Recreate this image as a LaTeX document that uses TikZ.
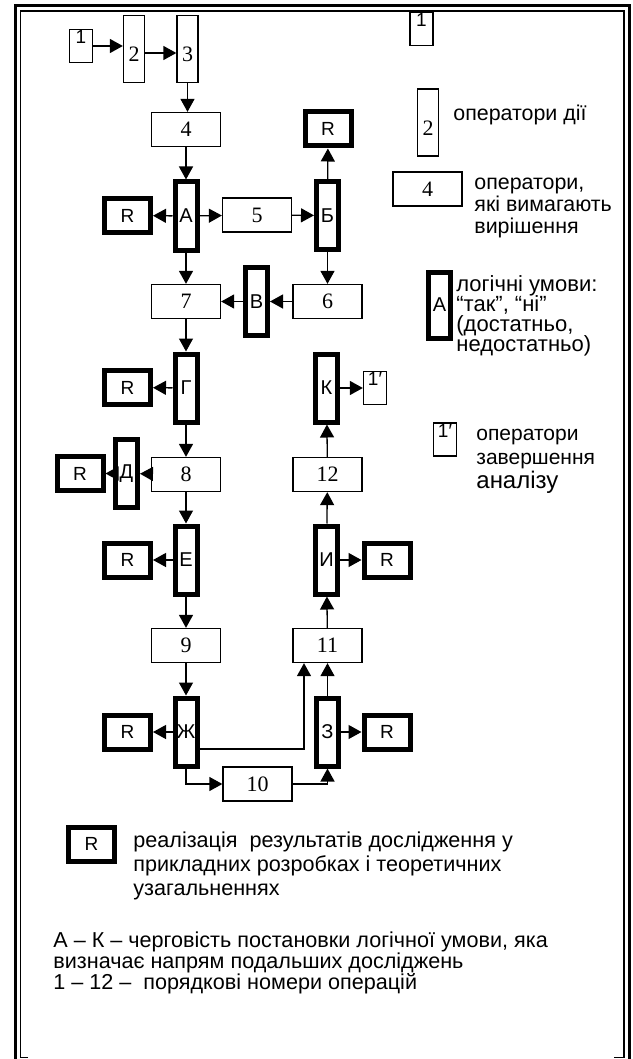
\documentclass[tikz,border=0pt]{standalone}
\usepackage{fontspec}
\setmainfont{Liberation Serif}
\setsansfont{Liberation Sans}
\usetikzlibrary{arrows.meta, positioning, calc}
\newcommand\tightlines{\lineskiplimit=-5pt\relax}

\begin{document}
\begin{tikzpicture}[
    x=0.5pt, y=-0.5pt,
    >={Triangle[length=6.5pt, width=7pt]}, % filled arrowheads
    conn/.style={->, line width=0.65pt}, % connectors between blocks
    oper/.style={draw, line width=0.65pt, minimum width=34.5pt, minimum height=17pt, inner sep=0pt, font=\fontsize{11}{12}\selectfont}, % operators to be solved
    act/.style={draw, line width=0.65pt, minimum width=10.5pt, minimum height=33.5pt, inner sep=0pt, text height=12.6pt, text depth=0pt, font=\fontsize{11}{12}\selectfont}, % action operators
    endop/.style={draw, line width=0.65pt, minimum width=11.5pt, minimum height=16.5pt, inner sep=0pt, text height=7pt, text depth=9.4pt, font=\sffamily\fontsize{9.5}{11}\selectfont}, % start / end operators
    cond/.style={draw, line width=2.5pt, minimum width=11pt, minimum height=34pt, inner sep=0pt, font=\sffamily\fontsize{10}{11}\selectfont}, % logical conditions
    res/.style={draw, line width=2.5pt, minimum width=23pt, minimum height=17pt, inner sep=0pt, font=\sffamily\fontsize{9.5}{11}\selectfont}, % realisation of results
    legend/.style={anchor=west, align=left, inner sep=0pt}
]
    \useasboundingbox (0,0) rectangle (632,1059);

    % === Frame ===
    \draw[line width=1.6pt] (15.5,1059) -- (15.5,5.8) -- (629.5,5.8) -- (629.5,1059);
    \draw[line width=0.75pt] (28,1057.5) -- (20.3,1057.5) -- (20.3,10.8) -- (624,10.8) -- (624,1057.5) -- (614,1057.5);

    % === Start ===
    \node[endop] (s1) at (81,46) {1};
    \node[act] (b2) at (134,49) {2};
    \node[act] (b3) at (187.5,49) {3};

    % ====== LEFT COLUMN ======
    \node[oper] (b4) at (186,129.5) {4};
    \node[cond] (cA) at (186,216) {А};
    \node[oper] (b7) at (186,301.5) {7};
    \node[cond] (cG) at (186,388) {Г};
    \node[oper] (b8) at (186,474.5) {8};
    \node[cond] (cE) at (186,560) {Е};
    \node[oper] (b9) at (186,645.5) {9};
    \node[cond] (cZh) at (186,732) {Ж};

    \node[res] (rA) at (127.5,215.5) {R};
    \node[res] (rG) at (127.5,387.5) {R};
    \node[cond] (cD) at (126.5,473.5) {Д};
    \node[res] (rD) at (80,473.5) {R};
    \node[res] (rE) at (127.5,560) {R};
    \node[res] (rZh) at (127.5,732) {R};

    % ====== MIDDLE ======
    \node[oper] (b5) at (257,215) {5};
    \node[cond] (cV) at (256.5,301.5) {В};
    \node[oper] (b10) at (257.5,784) {10};

    % ====== RIGHT COLUMN ======
    \node[res] (rB) at (328,129) {R};
    \node[cond] (cB) at (327.5,215.5) {Б};
    \node[oper] (b6) at (327.5,301.5) {6};
    \node[cond] (cK) at (326.5,388) {К};
    \node[oper] (b12) at (327.5,474.5) {12};
    \node[cond] (cI) at (326.5,560) {И};
    \node[oper] (b11) at (327.5,645.5) {11};
    \node[cond] (cZ) at (327.5,732) {З};

    \node[endop] (e1) at (375,388) {1′};
    \node[res] (rI) at (387,560) {R};
    \node[res] (rZ) at (387,732) {R};

    % ====== CONNECTORS ======
    \draw[conn] (s1.east) -- (s1.east -| b2.west);
    \draw[conn] ([yshift=-2pt]b2.east) -- ([yshift=-2pt]b3.west);
    \draw[conn] (b3.south) -- (b3.south |- b4.north);
    \draw[conn] (b4) -- (cA);
    \draw[conn] (cA) -- (rA);
    \draw[conn] (cA) -- (b5);
    \draw[conn] (b5) -- (cB);
    \draw[conn] (cB) -- (rB);
    \draw[conn] (cB) -- (b6);
    \draw[conn] (cA) -- (b7);
    \draw[conn] (b6) -- (cV);
    \draw[conn] (cV) -- (b7);
    \draw[conn] (b7) -- (cG);
    \draw[conn] (cG) -- (rG);
    \draw[conn] (cG) -- (b8);
    \draw[conn] (b8) -- (cD);
    \draw[conn] (cD) -- (rD);
    \draw[conn] (b8) -- (cE);
    \draw[conn] (cE) -- (rE);
    \draw[conn] (cE) -- (b9);
    \draw[conn] (b9) -- (cZh);
    \draw[conn] (cZh) -- (rZh);
    \draw[conn] ([yshift=-8.5pt]cZh.east) -| ([xshift=-11.75pt]b11.south);
    \draw[conn] (cZh.south) |- (b10.west);
    \draw[conn] (b10.east) -| (cZ.south);
    \draw[conn] (cZ) -- (rZ);
    \draw[conn] (cZ) -- (b11);
    \draw[conn] (b11) -- (cI);
    \draw[conn] (cI) -- (rI);
    \draw[conn] (cI) -- (b12);
    \draw[conn] (b12) -- (cK);
    \draw[conn] (cK) -- (e1);

    % ====== LEGEND (right) ======
    \node[endop] (lg1) at (421.5,29) {1};
    \node[act] (lg2) at (428,122.5) {2};
    \node[legend, font=\sffamily\fontsize{10.7}{11}\selectfont] (lt2) at (453,115) {оператори дії};
    \node[oper] (lg4) at (427.5,189) {4};
    \node[legend, font=\sffamily\fontsize{10.7}{11}\selectfont] (lt4) at (474,208) {оператори,\\які вимагають\\вирішення};
    \node[cond, minimum height=33pt] (lgA) at (439.5,305) {А};
    \node[legend, font=\sffamily\fontsize{11}{10}\selectfont\tightlines] (ltA) at (456,316) {логічні умови:\\“так”, “ні”\\(достатньо,\\недостатньо)};
    \node[endop] (lgE) at (445,439.5) {1′};
    \node[legend, font=\sffamily\fontsize{10.5}{12}\selectfont] (ltE) at (476,461) {оператори\\завершення\\{\fontsize{12}{12}\selectfont аналізу}};

    % ====== LEGEND (bottom) ======
    \node[res] (lgR) at (91.5,844) {R};
    \node[legend, font=\sffamily\fontsize{10.8}{12}\selectfont] (ltR) at (133,866) {реалізація~ результатів дослідження у\\прикладних розробках і теоретичних\\узагальненнях};
    \node[legend, font=\sffamily\fontsize{10.8}{10.3}\selectfont\tightlines] (ltNote) at (53,963) {А – К – черговість постановки логічної умови, яка\\визначає напрям подальших досліджень\\1 – 12 –~ порядкові номери операцій};

\end{tikzpicture}
\end{document}
